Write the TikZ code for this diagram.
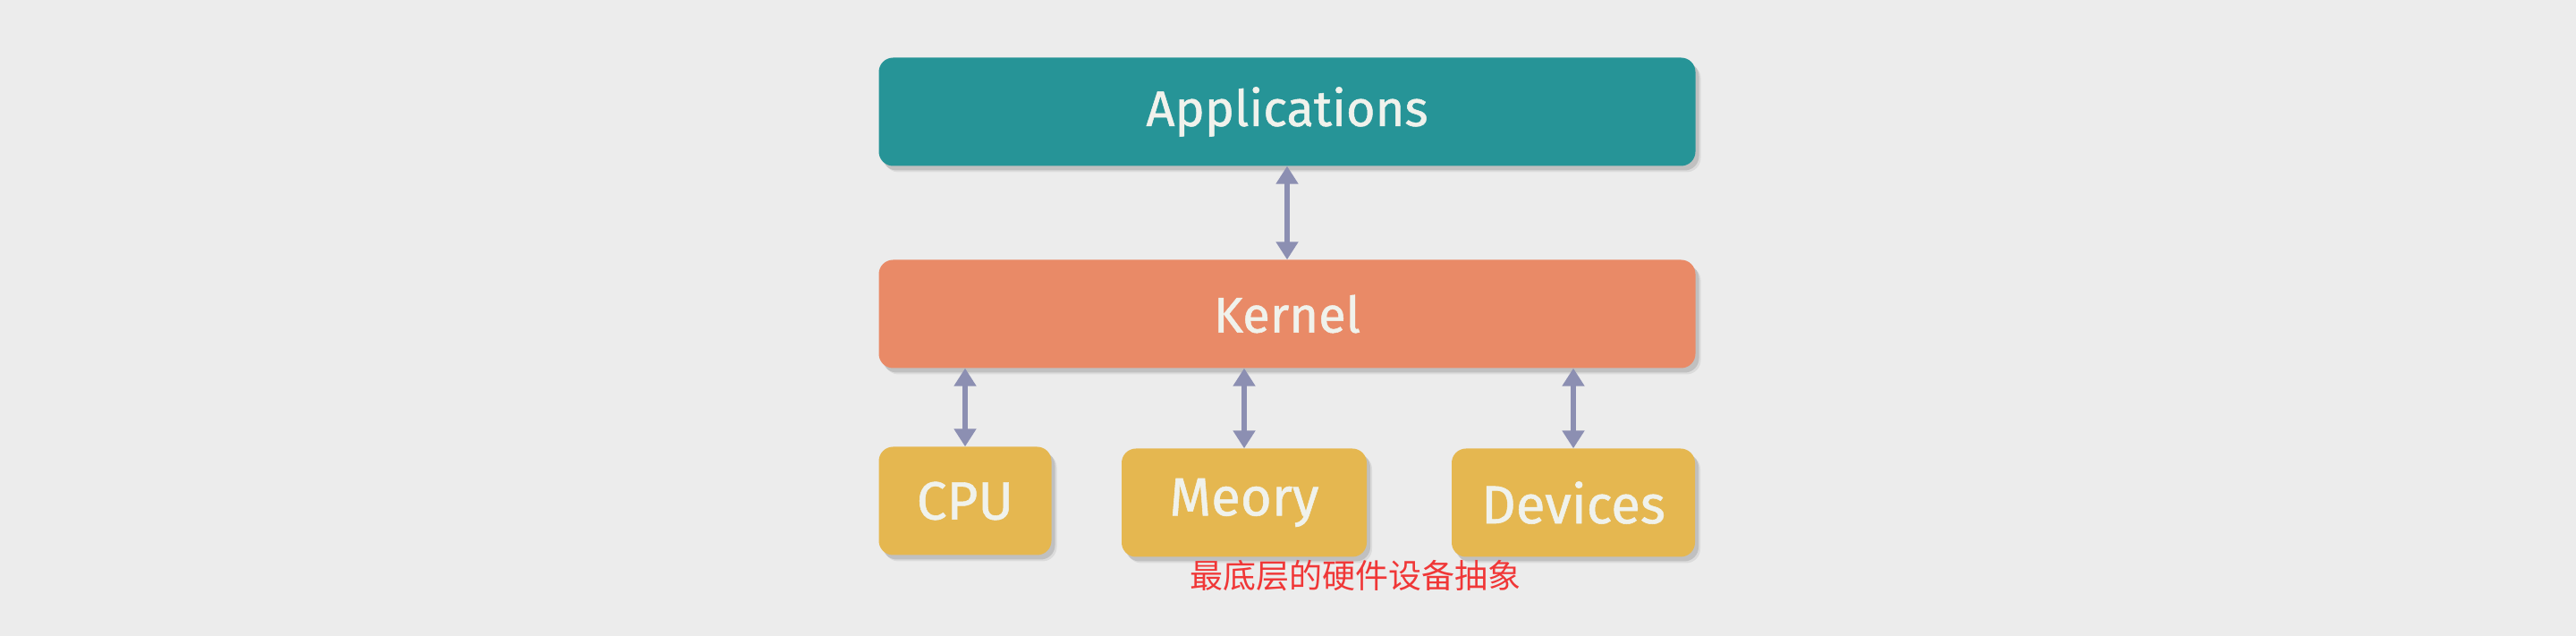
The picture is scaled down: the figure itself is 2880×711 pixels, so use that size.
\documentclass[tikz,border=0pt]{standalone}
\usepackage{fontspec}
\setmainfont{Fira Sans}
\newfontfamily\boxfont{Fira Sans}[FakeBold=0.9]
\newfontfamily\cjk{Noto Sans CJK SC}
\usetikzlibrary{arrows.meta, shadows}
\definecolor{BgGray}{RGB}{236, 236, 236}
\definecolor{AppTeal}{RGB}{38, 148, 151}
\definecolor{KernOrange}{RGB}{233, 138, 103}
\definecolor{HwYellow}{RGB}{229, 183, 80}
\definecolor{LinkGray}{RGB}{140, 143, 178}
\definecolor{NoteRed}{RGB}{240, 55, 55}
\definecolor{LabelWhite}{RGB}{240, 242, 236}
\tikzset{
	layer/.style={rounded corners=16pt, minimum height=121pt, text=LabelWhite,
		font=\boxfont\fontsize{56}{60}\selectfont, inner sep=0pt,
		general shadow={shadow xshift=6pt, shadow yshift=-7pt, opacity=0.07, fill=black},
		general shadow={shadow xshift=4pt, shadow yshift=-5pt, opacity=0.12, fill=black}},
	hwbox/.style={layer, fill=HwYellow, font=\boxfont\fontsize{60}{64}\selectfont},
	biarrow/.style={draw=LinkGray, line width=6pt,
		{Triangle[width=24pt,length=20pt]}-{Triangle[width=24pt,length=20pt]}}
}
\begin{document}
\begin{tikzpicture}[x=1pt, y=1pt]
			\fill[BgGray] (0,0) rectangle (2880,711);
			\useasboundingbox (0,0) rectangle (2880,711);
			\node[layer, fill=AppTeal, minimum width=913pt] (apps) at (1439,586) {Applications};
			\node[layer, fill=KernOrange, minimum width=913pt] (kernel) at (1439,360) {Kernel};
			\node[hwbox, minimum width=193pt] (cpu) at (1079,151) {CPU};
			\node[hwbox, minimum width=274pt] (mem) at (1391,149) {Meory};
			\node[hwbox, minimum width=272pt] (dev) at (1759,149) {Devices};
			\node[text=NoteRed, font=\cjk\fontsize{37}{40}\selectfont] (note) at (1515,67) {最底层的硬件设备抽象};
			% connectors
			\draw[biarrow] (apps.south) -- (kernel.north);
			\draw[biarrow] (cpu.north) -- (cpu.north |- kernel.south);
			\draw[biarrow] (mem.north) -- (mem.north |- kernel.south);
			\draw[biarrow] (dev.north) -- (dev.north |- kernel.south);
		\end{tikzpicture}
\end{document}
